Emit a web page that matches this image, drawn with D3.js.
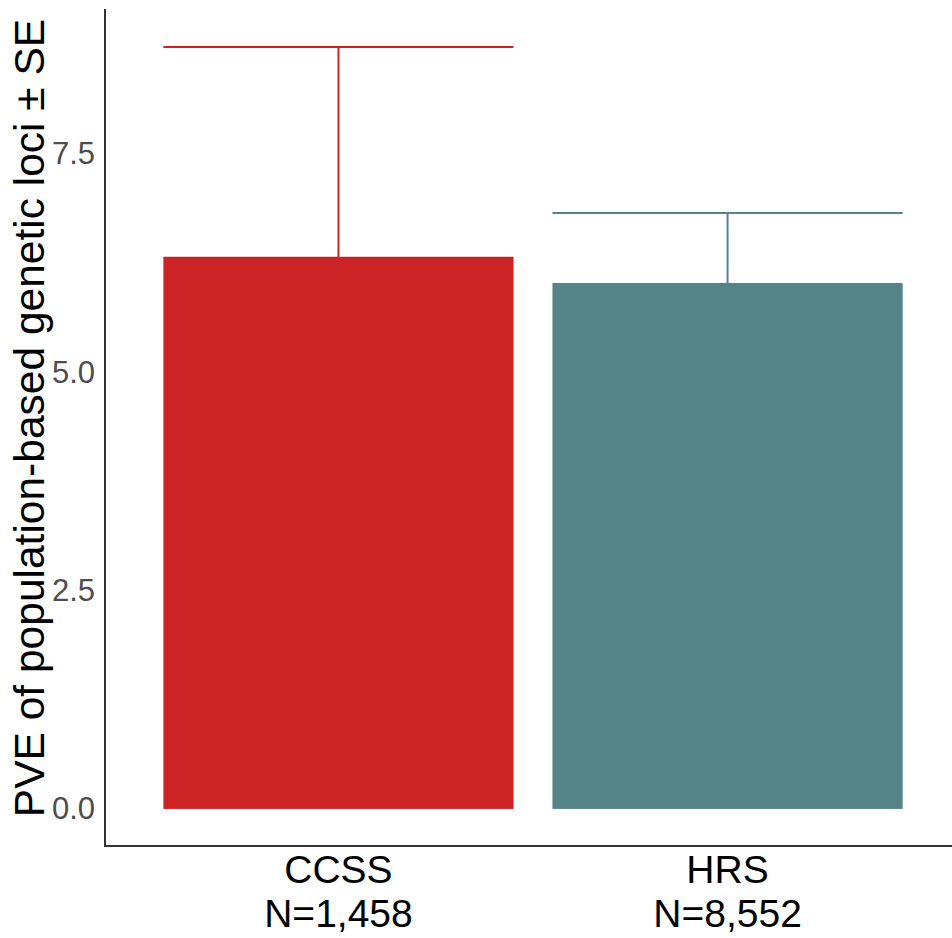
<!DOCTYPE html>
<html>
<head>
<meta charset="utf-8">
<script src="https://cdn.jsdelivr.net/npm/d3@7"></script>
<style>
  body { margin: 0; background: #fff; }
  svg { display: block; font-family: "Liberation Sans", Arial, sans-serif; }
</style>
</head>
<body>
<div id="chart"></div>
<script>
// Data
const cohorts = ["CCSS", "HRS"];
const sampleSizes = ["N=1,458", "N=8,552"];
const pve = [6.32, 6.02];
const se = [2.40, 0.80];
const colors = ["#CB2326", "#548487"];
const yTicks = [0, 2.5, 5, 7.5];

const data = cohorts.map((c, i) => ({cohort: c, n: sampleSizes[i], pve: pve[i], se: se[i], color: colors[i]}));

const width = 952, height = 938;
// panel edges (right edge runs past the image, as in the original)
const panel = {left: 105, right: 961, top: 9, bottom: 847};

const svg = d3.select("#chart").append("svg")
    .attr("width", width)
    .attr("height", height);

// y scale with ggplot-style 5% expansion
const yMax = d3.max(data, d => d.pve + d.se);
const pad = yMax * 0.05;
const y = d3.scaleLinear()
    .domain([-pad, yMax + pad])
    .range([panel.bottom, panel.top]);

const x = d3.scaleBand()
    .domain(cohorts)
    .range([panel.left, panel.right])
    .paddingInner(0.1)
    .paddingOuter(0.15);

// error bars drawn first so the lower half sits behind the bar
const eb = svg.append("g").selectAll("g")
    .data(data)
    .enter().append("g")
    .attr("stroke", d => d.color)
    .attr("stroke-width", 2)
    .attr("fill", "none");

eb.append("line")
    .attr("x1", d => x(d.cohort) + x.bandwidth() / 2)
    .attr("x2", d => x(d.cohort) + x.bandwidth() / 2)
    .attr("y1", d => y(d.pve - d.se))
    .attr("y2", d => y(d.pve + d.se));

eb.append("line")
    .attr("x1", d => x(d.cohort))
    .attr("x2", d => x(d.cohort) + x.bandwidth())
    .attr("y1", d => y(d.pve + d.se))
    .attr("y2", d => y(d.pve + d.se));

// bars
svg.append("g").selectAll("rect")
    .data(data)
    .enter().append("rect")
    .attr("x", d => x(d.cohort))
    .attr("width", x.bandwidth())
    .attr("y", d => y(d.pve))
    .attr("height", d => y(0) - y(d.pve))
    .attr("fill", d => d.color);

// Y axis (no tick marks)
const yAxis = svg.append("g")
    .attr("transform", `translate(${panel.left},0)`)
    .call(d3.axisLeft(y).tickValues(yTicks).tickFormat(d3.format(".1f")).tickSize(0).tickPadding(10));
yAxis.select(".domain").remove();
yAxis.selectAll("text")
    .attr("font-size", 31)
    .attr("fill", "#4D4D4D")
    .attr("font-family", "Liberation Sans, Arial, sans-serif");

// X axis labels (two lines)
const xAxis = svg.append("g")
    .attr("transform", `translate(0,${panel.bottom})`)
    .call(d3.axisBottom(x).tickSize(0).tickFormat(""));
xAxis.select(".domain").remove();
xAxis.selectAll(".tick").append("text")
    .attr("fill", "#000")
    .attr("font-size", 39)
    .attr("text-anchor", "middle")
    .attr("font-family", "Liberation Sans, Arial, sans-serif")
    .each(function(d, i) {
        const t = d3.select(this);
        t.append("tspan").attr("x", 0).attr("y", 36).text(d);
        t.append("tspan").attr("x", 0).attr("y", 80).text(sampleSizes[i]);
    });

// axis lines
svg.append("line")
    .attr("x1", panel.left).attr("x2", panel.left)
    .attr("y1", panel.top).attr("y2", panel.bottom)
    .attr("stroke", "#333").attr("stroke-width", 2);
svg.append("line")
    .attr("x1", panel.left - 1).attr("x2", width)
    .attr("y1", panel.bottom - 1).attr("y2", panel.bottom - 1)
    .attr("stroke", "#333").attr("stroke-width", 2);

// Y axis title
svg.append("text")
    .attr("transform", "translate(44,418) rotate(-90)")
    .attr("text-anchor", "middle")
    .attr("font-size", 42.5)
    .attr("fill", "#000")
    .text("PVE of population-based genetic loci ± SE");
</script>
</body>
</html>
